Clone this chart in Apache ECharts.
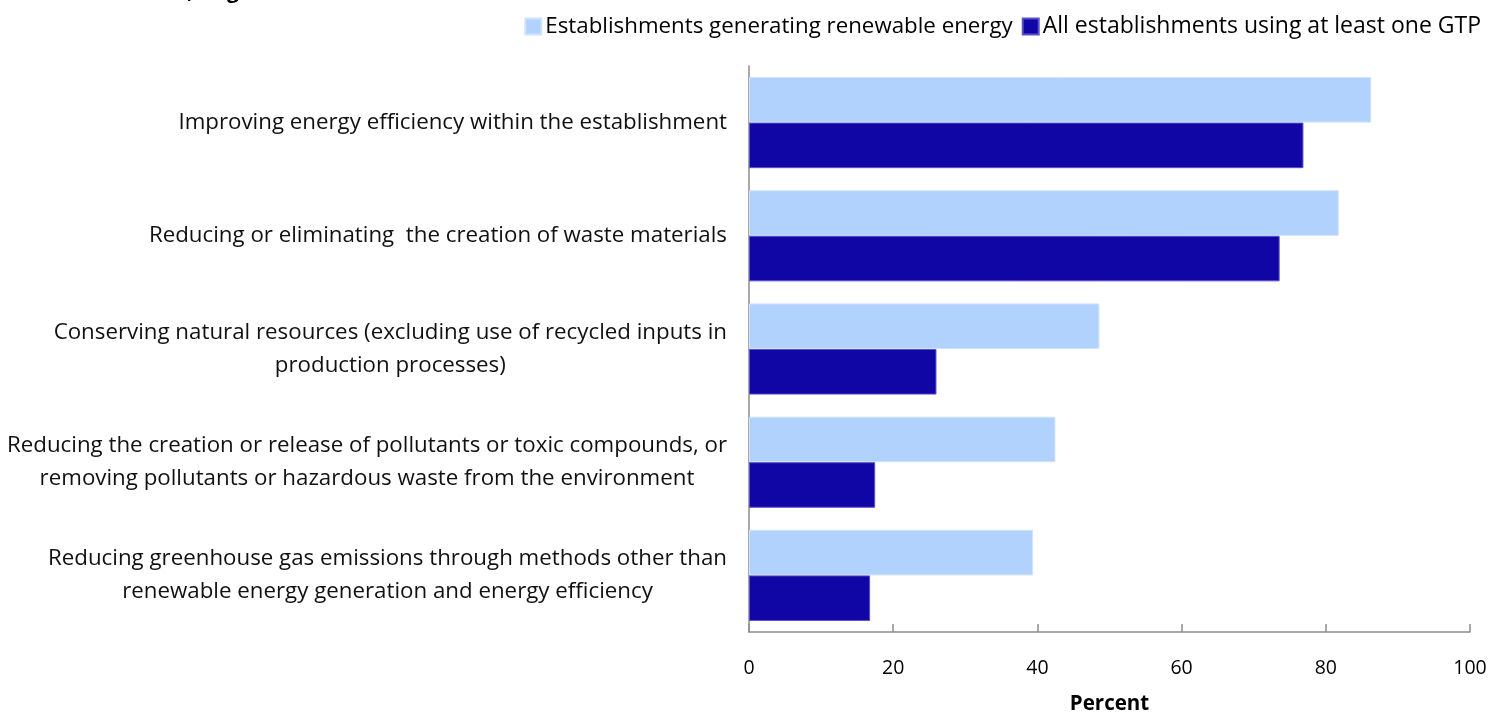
<!DOCTYPE html>
<html>
<head>
<meta charset="utf-8">
<script src="https://cdn.jsdelivr.net/npm/echarts@6/dist/echarts.min.js"></script>
<style>
html,body{margin:0;padding:0;background:#fff;}
#chart{width:1505px;height:713px;}
</style>
</head>
<body>
<div id="chart"></div>
<script>
const categories = [
  "Improving energy efficiency within the establishment",
  "Reducing or eliminating  the creation of waste materials",
  "Conserving natural resources (excluding use of recycled inputs in\nproduction processes)",
  "Reducing the creation or release of pollutants or toxic compounds, or\nremoving pollutants or hazardous waste from the environment",
  "Reducing greenhouse gas emissions through methods other than\nrenewable energy generation and energy efficiency"
];
const seriesNames = [
  "Establishments generating renewable energy",
  "All establishments using at least one GTP"
];
const renewableValues = [86.3, 81.8, 48.6, 42.5, 39.4];
const allGtpValues = [76.9, 73.6, 26.0, 17.5, 16.8];
const xTicks = [0, 20, 40, 60, 80, 100];
const titleText = "establishments by type of establishment, August 2011";

const FONT = "Open Sans";
const LABEL_SIZE = 22.3;
const chart = echarts.init(document.getElementById('chart'), null, {renderer: 'canvas'});
chart.setOption({
  backgroundColor: '#ffffff',
  animation: false,
  textStyle: {fontFamily: FONT},
  graphic: [{
    type: 'text',
    left: -240,
    top: -18,
    style: {
      text: titleText,
      font: 'bold 21px "Open Sans"',
      fill: '#000'
    }
  }],
  legend: {
    right: 19,
    top: 10,
    itemWidth: 16,
    itemHeight: 16,
    itemGap: 9,
    icon: 'rect',
    textStyle: {fontFamily: FONT, fontSize: LABEL_SIZE, color: '#000', padding: [0, 0, 0, -1]},
    data: [
      {name: seriesNames[0]},
      {name: seriesNames[1], textStyle: {fontSize: 23}}
    ]
  },
  grid: {left: 749, right: 35, top: 66, bottom: 81, containLabel: false, outerBoundsMode: 'none'},
  xAxis: {
    type: 'value',
    min: xTicks[0],
    max: xTicks[xTicks.length - 1],
    interval: 20,
    axisLine: {show: true, lineStyle: {color: '#8c8c8c', width: 1.5}},
    axisTick: {show: true, inside: true, length: 8, lineStyle: {color: '#8c8c8c', width: 1.5}},
    splitLine: {show: false},
    axisLabel: {fontFamily: FONT, fontSize: 19.5, color: '#000', margin: 26,
      formatter: v => xTicks.includes(v) ? String(v) : ''},
    name: 'Percent',
    nameLocation: 'middle',
    nameGap: 62,
    nameTextStyle: {fontFamily: FONT, fontSize: 20.5, fontWeight: 'bold', color: '#000'}
  },
  yAxis: {
    type: 'category',
    inverse: true,
    data: categories,
    axisLine: {show: true, lineStyle: {color: '#8c8c8c', width: 1.5}},
    axisTick: {show: false},
    axisLabel: {
      fontFamily: FONT, fontSize: LABEL_SIZE, color: '#111', margin: 22, align: 'right', lineHeight: 33,
      formatter: v => v.split('\n').map(l => '{c|' + l + '}').join('\n'),
      rich: {c: {align: 'center', fontFamily: FONT, fontSize: LABEL_SIZE, color: '#111', lineHeight: 33}}
    }
  },
  series: [
    {
      name: seriesNames[0],
      type: 'bar',
      data: renewableValues,
      barGap: '0%',
      barCategoryGap: '19.5%',
      itemStyle: {color: '#b0d2fc', borderColor: '#cfe3fe', borderWidth: 1}
    },
    {
      name: seriesNames[1],
      type: 'bar',
      data: allGtpValues,
      barGap: '0%',
      barCategoryGap: '19.5%',
      itemStyle: {color: '#1005a5', borderColor: '#5a52c8', borderWidth: 1}
    }
  ]
});
</script>
</body>
</html>
